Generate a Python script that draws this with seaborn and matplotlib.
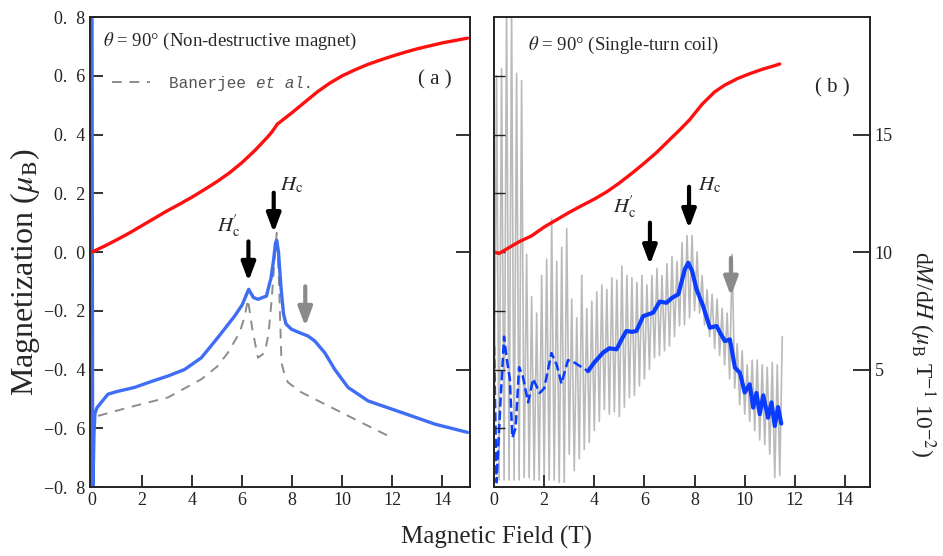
import numpy as np
import matplotlib
matplotlib.use("Agg")
import matplotlib.pyplot as plt
import seaborn as sns

# ---- panel (a): non-destructive magnet ----
a_m_field = [0, 0.5, 1, 1.5, 2, 2.5, 3, 3.5, 4, 4.5, 5, 5.5, 6, 6.5, 7, 7.2,
             7.4, 7.7, 8, 8.5, 9, 9.5, 10, 10.5, 11, 11.5, 12, 12.5, 13, 13.5,
             14, 14.5, 15]
a_m_value = [0.0, 0.02, 0.042, 0.065, 0.09, 0.115, 0.14, 0.163, 0.187, 0.213,
             0.24, 0.27, 0.305, 0.345, 0.39, 0.41, 0.435, 0.455, 0.475, 0.51,
             0.545, 0.575, 0.6, 0.62, 0.638, 0.653, 0.667, 0.68, 0.692, 0.702,
             0.712, 0.72, 0.728]

a_dm_field = [0.0, 0.03, 0.08, 0.12, 0.2, 0.37, 0.64, 1.0, 1.7, 2.4, 3.04, 3.7,
              4.37, 5.04, 5.7, 6.0, 6.26, 6.45, 6.63, 6.97, 7.1, 7.15, 7.25, 7.33,
              7.38, 7.45, 7.55, 7.65, 7.75, 7.97, 8.3, 8.63, 8.9, 9.3, 9.7, 10.23,
              11.03, 12.36, 13.7, 15.0]
a_dm_value = [0.85, -0.85, -0.62, -0.55, -0.53, -0.512, -0.484, -0.475, -0.461,
              -0.44, -0.422, -0.40, -0.36, -0.29, -0.218, -0.18, -0.127, -0.155,
              -0.161, -0.15, -0.105, -0.09, -0.03, 0.03, 0.04, 0.0, -0.12, -0.21,
              -0.245, -0.263, -0.275, -0.286, -0.303, -0.343, -0.40, -0.461,
              -0.507, -0.546, -0.586, -0.614]

ban_field = [0.24, 1.0, 1.7, 3.04, 4.37, 5.0, 5.43, 5.9, 6.1, 6.23, 6.4, 6.63,
             6.9, 7.05, 7.17, 7.3, 7.38, 7.47, 7.57, 7.7, 7.83, 8.37, 9.0, 9.7,
             10.4, 11.03, 11.83]
ban_value = [-0.558, -0.54, -0.524, -0.495, -0.433, -0.39, -0.343, -0.274,
             -0.22, -0.161, -0.26, -0.36, -0.343, -0.28, -0.17, -0.02, 0.065,
             -0.1, -0.377, -0.42, -0.444, -0.478, -0.505, -0.535, -0.565,
             -0.592, -0.626]

# ---- panel (b): single-turn coil ----
b_m_field = [0, 0.2, 0.5, 1, 1.5, 2, 2.5, 3, 3.5, 4, 4.5, 5, 5.5, 6, 6.5, 7,
             7.4, 7.8, 8.3, 8.8, 9.2, 9.7, 10.2, 10.7, 11.1, 11.4]
b_m_value = [0.0, -0.005, 0.01, 0.035, 0.055, 0.085, 0.11, 0.135, 0.158, 0.18,
             0.205, 0.235, 0.268, 0.303, 0.34, 0.382, 0.415, 0.45, 0.503,
             0.545, 0.568, 0.59, 0.607, 0.622, 0.632, 0.64]

# raw dM/dH oscillation: troughs at 0.0, 0.2, ... and peaks at 0.1, 0.3, ...
raw_trough = [0.3, 0.3, 0.3, 0.3, 0.3, 0.3, 0.4, 0.4, 0.3, 0.3, 0.5, 0.3, 0.3,
              0.2, 0.2, 1.4, 0.7, 1.2, 1.6, 1.9, 2.4, 2.8, 3.3, 3.1, 3.2, 3.0,
              3.4, 3.8, 3.9, 4.3, 4.6, 5.0, 5.5, 5.6, 5.8, 6.0, 6.4, 6.85, 6.9,
              7.2, 7.5, 7.4, 6.9, 6.4, 5.9, 5.6, 5.2, 4.6, 4.2, 3.5, 3.1, 2.8,
              2.4, 2.0, 1.8, 1.4, 0.4, 0.5]
raw_peak = [17.5, 17.8, 20.5, 20.5, 17.6, 17.3, 9.9, 8.1, 7.4, 9.0, 9.7, 11.4,
            9.6, 10.2, 11.0, 8.0, 7.2, 9.0, 7.6, 7.9, 8.3, 8.6, 8.4, 8.9, 8.8,
            9.4, 9.0, 8.9, 8.7, 9.0, 8.6, 9.0, 9.3, 9.0, 9.5, 9.8, 9.6, 10.4,
            10.7, 10.7, 10.0, 9.0, 8.4, 8.2, 8.0, 7.6, 7.4, 9.9, 6.1, 5.8, 5.2,
            5.4, 5.4, 5.2, 5.1, 5.3, 5.2, 6.4]

b_dash_field = [0.0, 0.1, 0.25, 0.4, 0.5, 0.63, 0.73, 0.86, 1.0, 1.15, 1.36,
                1.56, 1.82, 2.0, 2.29, 2.5, 2.69, 2.95, 3.2, 3.42, 3.75]
b_dash_value = [6.0, 0.2, 3.5, 6.4, 5.5, 4.6, 2.1, 2.5, 5.1, 4.7, 3.6, 4.6, 4.0,
                4.2, 5.7, 5.2, 4.4, 5.4, 5.3, 5.15, 4.93]

b_fit_field = [3.75, 4.0, 4.35, 4.6, 4.89, 5.1, 5.28, 5.5, 5.68, 5.95, 6.35,
               6.61, 6.88, 7.1, 7.35, 7.5, 7.61, 7.75, 7.9, 8.08, 8.34, 8.61,
               8.88, 9.05, 9.21, 9.41, 9.61, 9.81, 10.0, 10.2, 10.34, 10.47,
               10.6, 10.74, 10.93, 11.07, 11.2, 11.33, 11.46]
b_fit_value = [4.93, 5.3, 5.72, 5.9, 5.86, 6.3, 6.64, 6.6, 6.64, 7.27, 7.42,
               7.89, 7.84, 8.05, 8.2, 8.8, 9.26, 9.54, 9.2, 8.41, 7.7, 6.78,
               6.85, 6.5, 6.21, 6.28, 5.08, 4.86, 4.02, 4.37, 3.38, 4.0, 3.1,
               3.9, 2.95, 3.6, 2.6, 3.4, 2.7]

x_ticks = [0, 2, 4, 6, 8, 10, 12, 14]
m_ticks = [-0.8, -0.6, -0.4, -0.2, 0.0, 0.2, 0.4, 0.6, 0.8]
m_right_ticks = [-0.4, 0.0, 0.4]
dm_ticks = [5, 10, 15]

sns.set_theme(style="ticks")
plt.rcParams["font.family"] = ["Liberation Serif", "DejaVu Serif"]
plt.rcParams["mathtext.fontset"] = "stix"
plt.rcParams["axes.linewidth"] = 1.3

RED = "#ff1010"
BLUE_A = "#3f6ef5"
BLUE_B = "#0a3cff"

fig = plt.figure(figsize=(9.43, 5.56), dpi=100)
ax1 = fig.add_axes([0.0954, 0.1241, 0.4030, 0.8453])
ax2 = fig.add_axes([0.5239, 0.1241, 0.3987, 0.8453])
ax2r = ax2.twinx()
ax2r.set_zorder(ax2.get_zorder() - 1)
ax2.patch.set_visible(False)


def fmt_m(v):
    s = f"{abs(v):.1f}".replace(".", ".\u2002")
    return ("\u2212" + s) if v < 0 else s


# panel (a)
sns.lineplot(x=ban_field, y=ban_value, ax=ax1, color="#8c8c8c", lw=1.4,
             linestyle=(0, (5, 4)), sort=False, label="Banerjee ")
sns.lineplot(x=a_dm_field, y=a_dm_value, ax=ax1, color=BLUE_A, lw=2.4,
             sort=False, legend=False)
sns.lineplot(x=a_m_field, y=a_m_value, ax=ax1, color=RED, lw=2.4, sort=False,
             legend=False)
ax1.set_xlim(-0.08, 15.1)
ax1.set_ylim(-0.8, 0.8)
ax1.set_xticks(x_ticks)
ax1.set_yticks(m_ticks)
ax1.set_yticklabels([fmt_m(v) for v in m_ticks])
ax1.tick_params(direction="in", length=9, width=1.3, labelsize=13,
                colors="#222222")
ax1.set_xlabel("")
ax1.set_ylabel("")
ax1r = ax1.twinx()
ax1r.set_ylim(-0.8, 0.8)
ax1r.set_yticks(m_right_ticks)
ax1r.tick_params(axis="y", which="major", direction="in", length=10,
                 width=1.3, color="#222222", right=True, left=False,
                 labelright=False, labelleft=False)

leg = ax1.legend(loc="upper left", bbox_to_anchor=(0.02, 0.905), frameon=False,
                 handlelength=2.4, handletextpad=1.2,
                 prop={"family": "Liberation Mono", "size": 11.5})
for t in leg.get_texts():
    t.set_color("#555555")
ax1.annotate("et al.", xy=(1, 0), xycoords=leg.get_texts()[0], va="bottom",
             ha="left", family="Liberation Mono", style="italic", size=11.5,
             color="#555555", zorder=10)

ax1.text(0.035, 0.947, r"$\theta$ = 90° (Non-destructive magnet)",
         transform=ax1.transAxes, fontsize=13.5, va="center")
ax1.text(0.908, 0.866, "( a )", transform=ax1.transAxes, fontsize=15,
         ha="center", va="center")

arrow_k = dict(arrowstyle="-|>,head_length=0.8,head_width=0.3", lw=3,
               color="black", mutation_scale=14, shrinkA=0, shrinkB=0)
arrow_g = dict(arrow_k, color="#8a8a8a")
ax1.annotate("", xy=(6.25, -0.10), xytext=(6.25, 0.036), arrowprops=arrow_k)
ax1.annotate("", xy=(7.26, 0.066), xytext=(7.26, 0.202), arrowprops=arrow_k)
ax1.annotate("", xy=(8.52, -0.253), xytext=(8.52, -0.117), arrowprops=arrow_g)
h_prime = r"$H^{\!\prime}_{\rm c}$"
ax1.text(5.0, 0.09, h_prime, fontsize=15, va="center")
ax1.text(7.5, 0.225, r"$H_{\rm c}$", fontsize=15, va="center")

# panel (b)
raw_field, raw_value = [], []
for i, (lo, hi) in enumerate(zip(raw_trough, raw_peak)):
    raw_field += [round(0.2 * i, 2), round(0.2 * i + 0.1, 2)]
    raw_value += [lo, hi]
sns.lineplot(x=raw_field, y=raw_value, ax=ax2r, color="#bababa", lw=1.2,
             sort=False, legend=False)
sns.lineplot(x=b_dash_field, y=b_dash_value, ax=ax2r, color=BLUE_B, lw=1.8,
             linestyle="--", sort=False, legend=False)
sns.lineplot(x=b_fit_field, y=b_fit_value, ax=ax2r, color=BLUE_B, lw=3,
             sort=False, legend=False)
sns.lineplot(x=b_m_field, y=b_m_value, ax=ax2, color=RED, lw=2.4, sort=False,
             legend=False)

ax2.set_xlim(0, 15)
ax2.set_ylim(-0.8, 0.8)
ax2r.set_ylim(0, 20)
ax2.set_xticks(x_ticks)
ax2.set_yticks(m_ticks[1:-1])
ax2.set_yticklabels([])
ax2r.set_yticks(dm_ticks)
ax2.tick_params(direction="in", length=9, width=1.3, labelsize=13,
                colors="#222222")
ax2.tick_params(axis="y", length=8, width=1.0)
ax2r.tick_params(direction="in", length=12, width=1.3, labelsize=13,
                 colors="#222222")
ax2.set_xlabel("")
ax2.set_ylabel("")
ax2r.set_ylabel("")

ax2.text(0.09, 0.94, r"$\theta$ = 90° (Single-turn coil)",
         transform=ax2.transAxes, fontsize=13.5, va="center")
ax2.text(0.9, 0.849, "( b )", transform=ax2.transAxes, fontsize=15,
         ha="center", va="center")
ax2.annotate("", xy=(6.22, -0.043), xytext=(6.22, 0.1), arrowprops=arrow_k)
ax2.annotate("", xy=(7.78, 0.08), xytext=(7.78, 0.222), arrowprops=arrow_k)
ax2.annotate("", xy=(9.45, -0.15), xytext=(9.45, -0.02), arrowprops=arrow_g)
ax2.text(4.75, 0.155, h_prime, fontsize=15, va="center")
ax2.text(8.15, 0.225, r"$H_{\rm c}$", fontsize=15, va="center")

fig.text(0.527, 0.034, "Magnetic Field (T)", ha="center", va="center",
         fontsize=18)
fig.text(0.026, 0.511, r"Magnetization ($\mu_{\rm B}$)", ha="center",
         va="center", rotation=90, fontsize=23)
fig.text(0.978, 0.363, r"d$M$/d$H$ ($\mu_{\rm B}$ T$^{-1}$ 10$^{-2}$)",
         ha="center", va="center", rotation=270, fontsize=17)

fig.savefig("out.png", dpi=100)
